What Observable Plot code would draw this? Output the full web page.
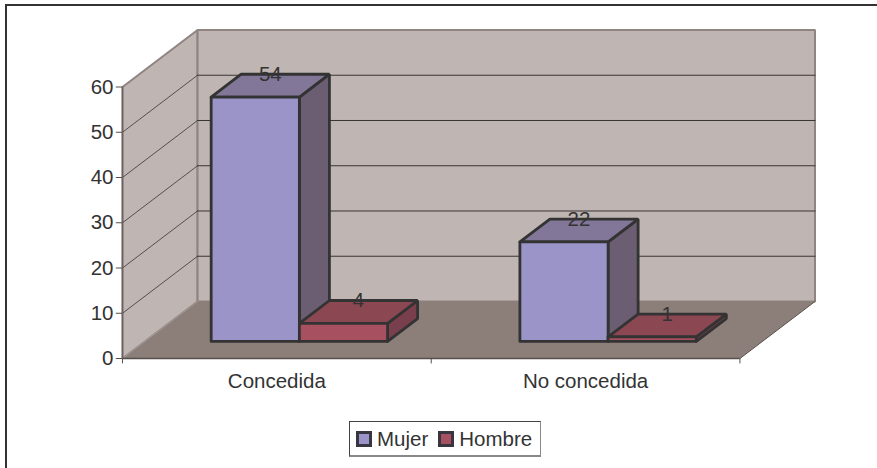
<!DOCTYPE html>
<html><head><meta charset="utf-8">
<script src="https://cdn.jsdelivr.net/npm/d3@7"></script>
<script src="https://cdn.jsdelivr.net/npm/@observablehq/plot@0.6"></script>
<style>
html,body{margin:0;padding:0;background:#fff}
#chart{position:relative;width:877px;height:468px;overflow:hidden}
#frame{position:absolute;left:5px;top:4px;right:0;bottom:0;border-left:2px solid #333;border-top:2px solid #333;pointer-events:none}
#chart svg{position:absolute;left:0;top:0;background:transparent}
#legend{position:absolute;left:349px;top:421px;width:190px;height:33px;border:1px solid #444;border-right:1.5px solid #888;border-bottom:2px solid #888;background:#fff;font:20.5px "Liberation Sans",Arial,sans-serif;color:#333;display:flex;align-items:center;box-sizing:content-box;white-space:nowrap}
#legend i{display:inline-block;width:10px;height:10px;border:3px solid #383640;margin:0 5px 0 6px}
#legend span{margin-right:4px}
</style></head><body>
<div id="chart"><div id="frame"></div></div>
<script>
const categories = ["Concedida", "No concedida"];
const seriesNames = ["Mujer", "Hombre"];
const mujer = [54, 22];
const hombre = [4, 1];
const yTicks = [0, 10, 20, 30, 40, 50, 60];
const labelValues = [mujer, hombre];

const faceColors = [
  {front: "#9b94c8", side: "#6b5e72", top: "#837799"},
  {front: "#a65060", side: "#7a3f4c", top: "#8b4752"}
];
const FONT = '"Liberation Sans",Arial,sans-serif';
const INK = "#333";
const TEXT_SIZE = 20.5;

// Oblique projection, in scale units: depth 0 is the front plane, depth 1 the back wall
const DX = 75 / 308.5, DY = 12.6;
const X = (c, d) => c + d * DX;
const Y = (v, d) => v + d * DY;
const pt = (c, v, d) => ({x: X(c, d), y: Y(v, d)});

const nCat = categories.length;
const poly = (pts, o) => Plot.line([...pts, pts[0]], {x: "x", y: "y", strokeLinejoin: "miter", ...o});
const seg = (pts, o) => Plot.line(pts, {x: "x", y: "y", ...o});

const marks = [];
// walls and floor
const wallStyle = {fill: "#bfb5b2", stroke: "#8f8480", strokeWidth: 2};
marks.push(poly([pt(0,0,0), pt(0,0,1), pt(0,60,1), pt(0,60,0)], wallStyle));
marks.push(poly([pt(0,0,1), pt(nCat,0,1), pt(nCat,60,1), pt(0,60,1)], wallStyle));
marks.push(poly([pt(0,0,0), pt(nCat,0,0), pt(nCat,0,1), pt(0,0,1)], {fill: "#8c7e79", stroke: "none"}));
marks.push(seg([pt(nCat,0,0), pt(nCat,0,1)], {stroke: "#5a5250", strokeWidth: 1}));
marks.push(seg([pt(0,0,0), pt(0,0,1)], {stroke: "#a59a96", strokeWidth: 1}));

// gridlines
for (const v of yTicks.filter(t => t > 0 && t < 60)) {
  marks.push(seg([pt(0,v,0), pt(0,v,1)], {stroke: "#3a3535", strokeWidth: 0.8}));
  marks.push(seg([pt(0,v,1), pt(nCat,v,1)], {stroke: "#3a3535", strokeWidth: 1}));
}
// axes
marks.push(Plot.ruleX([0], {y1: 0, y2: 60, stroke: "#6a6260", strokeWidth: 1.5}));
marks.push(Plot.ruleY([0], {x1: 0, x2: nCat, stroke: "#55504e", strokeWidth: 1.5}));
marks.push(Plot.ruleX(d3.range(nCat + 1), {y1: 0, y2: -1.2, stroke: "#55504e", strokeWidth: 1}));
marks.push(Plot.ruleY(yTicks, {x1: 0, x2: -0.02, stroke: "#55504e", strokeWidth: 1}));
marks.push(Plot.text(yTicks, {x: 0, y: d => d, text: d => String(d), dx: -9, textAnchor: "end", fontSize: TEXT_SIZE, fontFamily: FONT, fill: INK}));
marks.push(Plot.text(categories, {x: (d, i) => i + 0.5, y: 0, text: d => d, dy: 23, fontSize: TEXT_SIZE, fontFamily: FONT, fill: INK}));

// bars
const barW = 1 / 3.5, d0 = 0.3, d1 = 0.7;
const barStyle = {stroke: "#333", strokeWidth: 2.8};
[mujer, hombre].forEach((vals, s) => {
  vals.forEach((v, c) => {
    const l = c + barW * (0.75 + s), r = l + barW;
    const col = faceColors[s];
    marks.push(poly([pt(r,0,d0), pt(r,0,d1), pt(r,v,d1), pt(r,v,d0)], {fill: col.side, ...barStyle}));
    marks.push(poly([pt(l,v,d0), pt(r,v,d0), pt(r,v,d1), pt(l,v,d1)], {fill: col.top, ...barStyle}));
    marks.push(poly([pt(l,0,d0), pt(r,0,d0), pt(r,v,d0), pt(l,v,d0)], {fill: col.front, ...barStyle}));
  });
});
// data labels
labelValues.forEach((vals, s) => {
  marks.push(Plot.text(vals, {
    x: (d, c) => X(c + barW * (0.75 + s) + barW / 2, 0.5),
    y: d => Y(d, d1),
    text: d => String(d),
    fontSize: TEXT_SIZE, fontFamily: FONT, fill: INK
  }));
});

const plot = Plot.plot({
  width: 877, height: 468,
  marginLeft: 122, marginRight: 877 - 814.5, marginTop: 29.5, marginBottom: 110,
  x: {domain: [0, nCat + DX], axis: null},
  y: {domain: [0, (358 - 29.5) / 4.525], axis: null},
  style: {background: "transparent", overflow: "visible"},
  marks
});
const chart = document.getElementById("chart");
chart.appendChild(plot);

const legend = document.createElement("div");
legend.id = "legend";
seriesNames.forEach((name, i) => {
  const sw = document.createElement("i");
  sw.style.background = faceColors[i].front;
  const t = document.createElement("span");
  t.textContent = name;
  legend.append(sw, t);
});
chart.appendChild(legend);
</script>
</body></html>
